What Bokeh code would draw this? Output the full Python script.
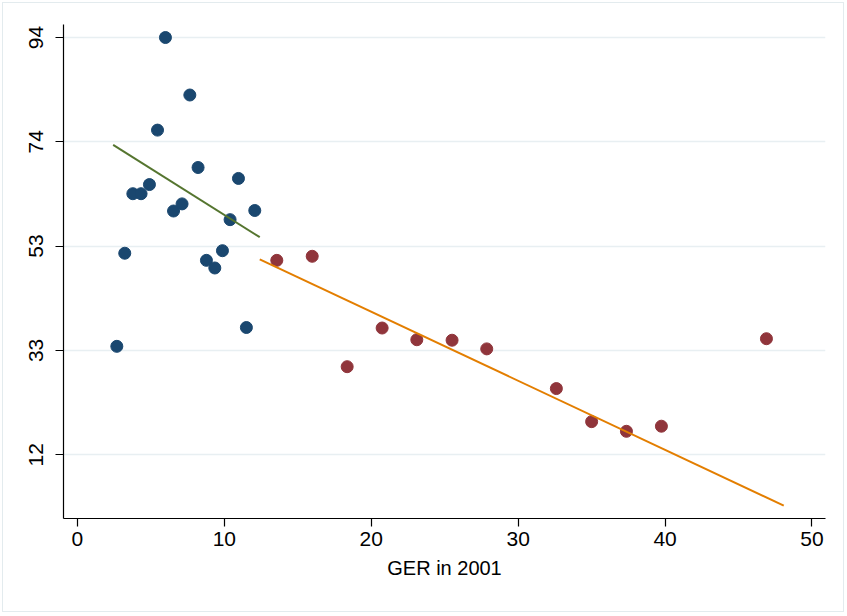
from bokeh.plotting import figure
from bokeh.models import FixedTicker, Range1d
from bokeh.embed import file_html
from bokeh.resources import INLINE

# Group below cutoff (navy points)
low_x = [2.68, 3.22, 3.77, 4.33, 4.90, 5.45, 5.99, 6.54, 7.12, 7.65, 8.21, 8.78,
         9.35, 9.87, 10.39, 10.96, 11.50, 12.07]
low_y = [33.6, 51.9, 63.6, 63.6, 65.4, 76.1, 94.3, 60.2, 61.6, 83.0, 68.75, 50.5,
         49.0, 52.4, 58.5, 66.6, 37.3, 60.3]

# Group above cutoff (maroon points)
high_x = [13.57, 15.98, 18.36, 20.74, 23.10, 25.50, 27.86, 32.60, 35.00, 37.37, 39.75, 46.90]
high_y = [50.5, 51.3, 29.6, 37.2, 34.9, 34.8, 33.1, 25.3, 18.8, 16.9, 17.9, 35.1]

# Fitted lines
fit_low_x = [2.43, 12.41]
fit_low_y = [73.2, 55.05]
fit_high_x = [12.41, 48.08]
fit_high_y = [50.7, 2.3]

x_ticks = [0, 10, 20, 30, 40, 50]
y_ticks = [12.3, 32.8, 53.3, 73.8, 94.3]
y_tick_labels = ["12", "33", "53", "74", "94"]

FONT = "Liberation Sans"

p = figure(width=842, height=610, output_backend="svg", toolbar_location=None,
           x_range=Range1d(-0.95, 50.92), y_range=Range1d(-0.24, 96.86),
           min_border_left=60, min_border_right=20, min_border_top=21, min_border_bottom=95,
           background_fill_color="white", border_fill_color="white")
p.styles = {"margin": "2px", "border": "1px solid #e3ebee"}
p.outline_line_color = None

p.xgrid.grid_line_color = None
p.ygrid.grid_line_color = "#e8eff2"
p.ygrid.grid_line_width = 1.5

p.xaxis.ticker = FixedTicker(ticks=x_ticks)
p.yaxis.ticker = FixedTicker(ticks=y_ticks)
p.yaxis.major_label_overrides = {t: l for t, l in zip(y_ticks, y_tick_labels)}
p.yaxis.major_label_orientation = "vertical"

for ax in (p.xaxis, p.yaxis):
    ax.axis_line_color = "black"
    ax.axis_line_width = 1.2
    ax.major_tick_line_color = "black"
    ax.major_tick_line_width = 1.2
    ax.major_tick_out = 8
    ax.major_tick_in = 0
    ax.minor_tick_line_color = None
    ax.major_label_text_font = FONT
    ax.major_label_text_font_size = "21px"
    ax.major_label_text_color = "black"

p.xaxis.major_label_standoff = 5
p.yaxis.major_label_standoff = 12

p.xaxis.axis_label = "GER in 2001"
p.xaxis.axis_label_text_font = FONT
p.xaxis.axis_label_text_font_size = "20px"
p.xaxis.axis_label_text_font_style = "normal"
p.xaxis.axis_label_text_color = "black"
p.xaxis.axis_label_standoff = 8

p.scatter(low_x, low_y, size=12, color="#1a476f", line_color="#1a476f")
p.scatter(high_x, high_y, size=12, color="#90353b", line_color="#90353b")
p.line(fit_low_x, fit_low_y, line_color="#55752f", line_width=2)
p.line(fit_high_x, fit_high_y, line_color="#e37e00", line_width=2)

open("out.html", "w").write(file_html(p, INLINE))
